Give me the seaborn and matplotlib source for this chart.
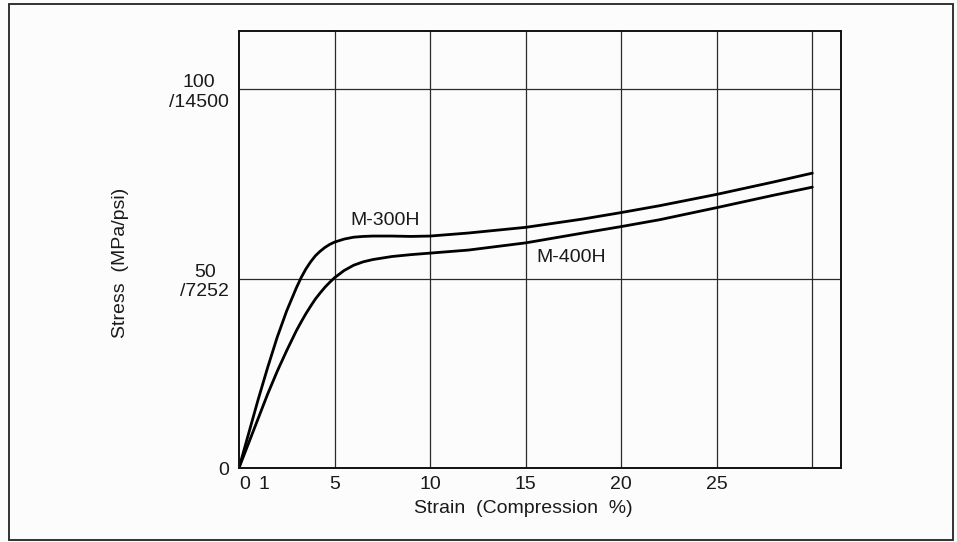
import matplotlib
matplotlib.use("Agg")
import matplotlib.pyplot as plt
from matplotlib.patches import Rectangle
import pandas as pd
import seaborn as sns

# Compression stress-strain curves for two grades
strain = [0, 0.5, 1, 1.5, 2, 2.5, 3,
          3.25, 3.5, 3.75, 4, 4.25, 4.5, 4.75, 5,
          5.5, 6, 6.5, 7, 7.5, 8, 9, 10,
          12, 15, 18, 20, 22, 25, 28, 30]
stress_m300h = [0, 9, 18, 26.5, 34.5, 41.5, 47.5,
                50.2, 52.5, 54.4, 56, 57.2, 58.2, 59, 59.6,
                60.4, 60.9, 61.1, 61.2, 61.2, 61.2, 61.1, 61.2,
                62, 63.5, 65.7, 67.4, 69.2, 72.2, 75.5, 77.8]
stress_m400h = [0, 6.5, 13, 19.5, 25.5, 31, 36.2,
                38.5, 40.7, 42.7, 44.6, 46.2, 47.7, 49, 50.2,
                52.1, 53.5, 54.4, 55, 55.4, 55.8, 56.3, 56.7,
                57.5, 59.4, 62, 63.7, 65.5, 68.7, 72, 74.1]
grades = ["M-300H", "M-400H"]

y_ticks = [0, 50, 100]
y_tick_labels = ["0", "50\n/7252", "100\n/14500"]
x_major = [5, 10, 15, 20, 25, 30]
x_major_labels = ["5", "10", "15", "20", "25", ""]
x_minor = [0, 1]
x_minor_labels = ["0", "1"]

df = pd.DataFrame({
    "strain": strain * 2,
    "stress": stress_m300h + stress_m400h,
    "grade": [grades[0]] * len(strain) + [grades[1]] * len(strain),
})

sns.set_theme(style="white")
plt.rcParams["font.family"] = ["Liberation Sans", "DejaVu Sans"]

fs = 14
ink = "#1a1a1a"
bg = "#fcfcfc"
fig = plt.figure(figsize=(9.57, 5.42), dpi=100, facecolor=bg)
ax = fig.add_axes([0.2497, 0.1365, 0.6291, 0.8063], facecolor=bg)

sns.lineplot(data=df, x="strain", y="stress", hue="grade",
             palette={grades[0]: "black", grades[1]: "black"},
             estimator=None, sort=True, linewidth=2.0, legend=False, ax=ax)

ax.set_xlim(0, 31.5)
ax.set_ylim(0, 115.3)

ax.set_xticks(x_major)
ax.set_xticklabels(x_major_labels)
ax.set_xticks(x_minor, minor=True)
ax.set_xticklabels(x_minor_labels, minor=True, ha="left")

ax.set_yticks(y_ticks)
ax.set_yticklabels(y_tick_labels, ha="right", multialignment="center")

ax.tick_params(axis="both", which="both", length=0, labelsize=fs,
               colors=ink)
ax.tick_params(axis="x", which="both", pad=6)
ax.tick_params(axis="y", pad=7)

ax.grid(True, which="major", axis="both", color="#2a2a2a", linewidth=0.9)
for sp in ax.spines.values():
    sp.set_color("#111111")
    sp.set_linewidth(1.4)

ax.set_xlabel("Strain  (Compression  %)", fontsize=fs, color=ink)
ax.set_ylabel("Stress  (MPa/psi)", fontsize=fs, color=ink)
ax.xaxis.set_label_coords(0.473, -0.074)
ax.yaxis.set_label_coords(-0.183, 0.469)

ax.text(7.64, 65.2, "M-300H", fontsize=fs, ha="center", va="center",
        color=ink)
ax.text(17.4, 55.6, "M-400H", fontsize=fs, ha="center", va="center",
        color=ink)

# Outer border around the whole figure
fig.patches.append(Rectangle((0.0094, 0.0037), 0.9864, 0.9889,
                             transform=fig.transFigure, fill=False,
                             edgecolor="#222222", linewidth=1.3))

fig.savefig("out.png", dpi=100, facecolor=bg)
